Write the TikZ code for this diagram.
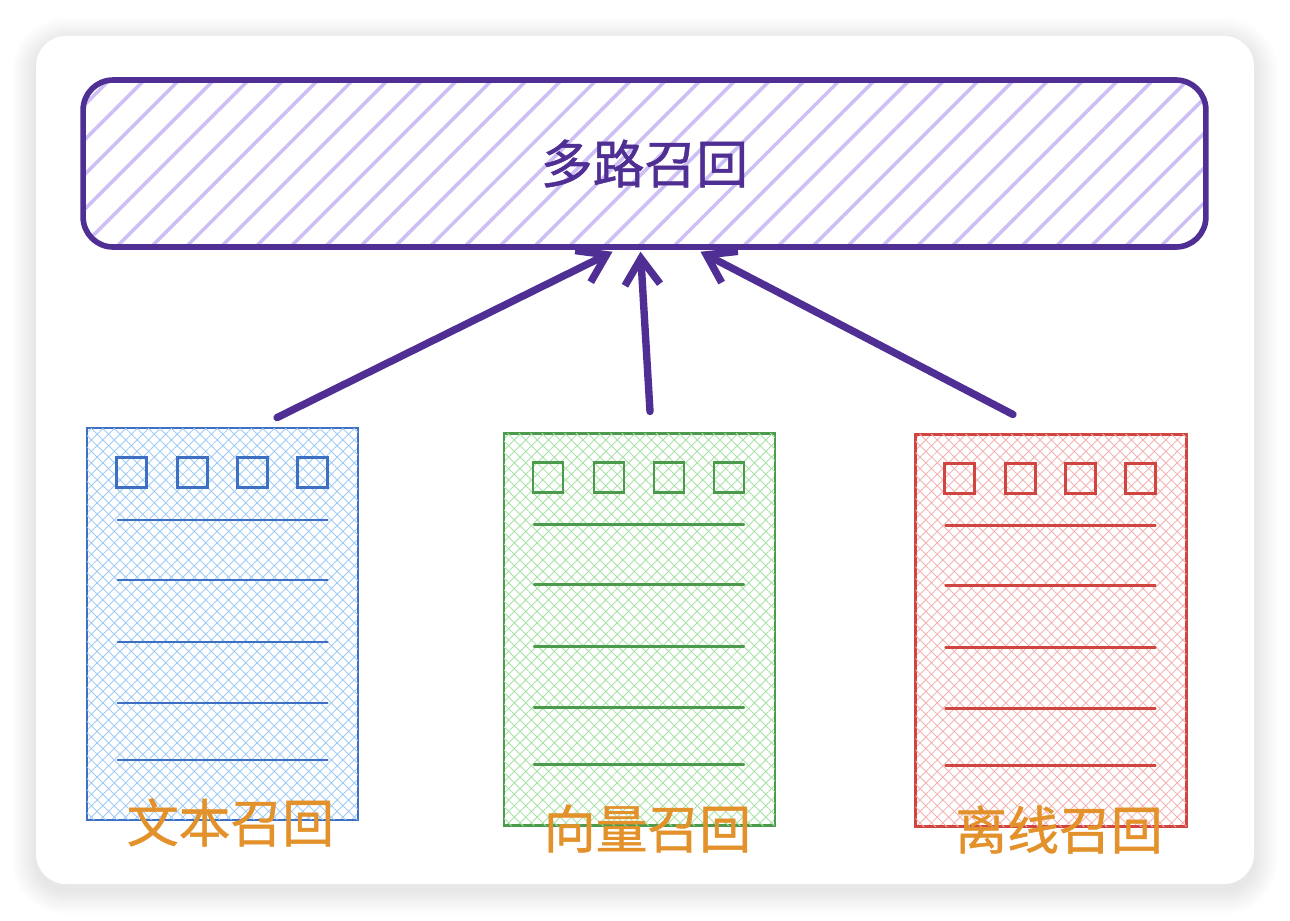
\documentclass[tikz,border=0pt]{standalone}
\usepackage{fontspec}
\newfontfamily\cjk[FakeBold=1]{Noto Sans CJK SC}
\usetikzlibrary{arrows.meta,positioning,calc,patterns.meta}
\definecolor{ink}{HTML}{4F2F93}
\definecolor{inklt}{HTML}{CDBFF5}
\definecolor{tag}{HTML}{E3922B}
\definecolor{bluedk}{HTML}{3D6FC2}
\definecolor{bluelt}{HTML}{9FCBF5}
\definecolor{greendk}{HTML}{4C9A4C}
\definecolor{greenlt}{HTML}{A8E2A6}
\definecolor{reddk}{HTML}{D0453F}
\definecolor{redlt}{HTML}{F2B3B3}
\tikzset{
  topbox/.style={draw=ink, line width=3.2pt, rounded corners=0.6cm,
                 minimum width=22.46cm, minimum height=3.34cm,
                 pattern={Lines[angle=45,distance=14pt,line width=2pt]},
                 pattern color=inklt, text=ink,
                 font=\cjk\fontsize{29.5}{32}\selectfont},
  docbox/.style={draw=#1dk, line width=1.2pt, inner sep=0pt,
                 minimum width=5.42cm, minimum height=7.84cm,
                 pattern={Lines[angle=45,distance=4.6pt,line width=0.5pt]},
                 pattern color=#1lt,
                 postaction={pattern={Lines[angle=-45,distance=4.6pt,line width=0.5pt]},
                             pattern color=#1lt}},
  sq/.style={draw=#1dk, line width=1.3pt},
  rule/.style={draw=#1dk, line width=1.2pt, line cap=round},
  tagtext/.style={text=tag, font=\cjk\fontsize{29.5}{32}\selectfont},
  ar/.style={-{Straight Barb[length=15pt,width=20pt]}, line width=4.2pt,
             draw=ink, line cap=round, line join=round}
}

\begin{document}
\begin{tikzpicture}[x=0.02cm,y=-0.02cm]
  \useasboundingbox (0,0) rectangle (1290,920);

  % card with soft shadow
  \foreach \i in {1,...,12} {
    \fill[black, opacity=0.009, rounded corners={(0.6+0.04*\i)*1cm}]
      (36-2*\i,42-2*\i) rectangle (1254+2*\i,890+2*\i);
  }
  \fill[white, rounded corners=0.6cm] (36,36) rectangle (1254,884);

  % merged recall
  \node[topbox] (multi) at (644.5,163.5) {多路召回};

  % the three sources
  \foreach \n/\c/\x/\y/\t in {doca/blue/222.5/624/文本召回,
                              docb/green/639.5/629.5/向量召回,
                              docc/red/1051/630.5/离线召回} {
    \node[docbox=\c] (\n) at (\x,\y) {};
    \foreach \dx in {30,91,151,211}
      \draw[sq=\c] ($(\n.north west)+(\dx,30)$) rectangle ++(30,30);
    \foreach \dy in {92,152,214,275,332}
      \draw[rule=\c] ($(\n.north west)+(31,\dy)$) -- ++(210,0);
    \node[tagtext] (\n-tag) at ($(\n.south)+(8,2)$) {\t};
  }

  % arrows into the merge
  \coordinate (sa) at ($(doca.north)+(54.5,-10)$);
  \coordinate (sb) at ($(docb.north)+(10.5,-21)$);
  \coordinate (sc) at ($(docc.north)+(-38,-19)$);
  \draw[ar] (sa) -- ($(multi.south)+(-32,3)$);
  \draw[ar] (sb) -- ($(multi.south)+(-4,3)$);
  \draw[ar] (sc) -- ($(multi.south)+(56,3)$);
\end{tikzpicture}
\end{document}
